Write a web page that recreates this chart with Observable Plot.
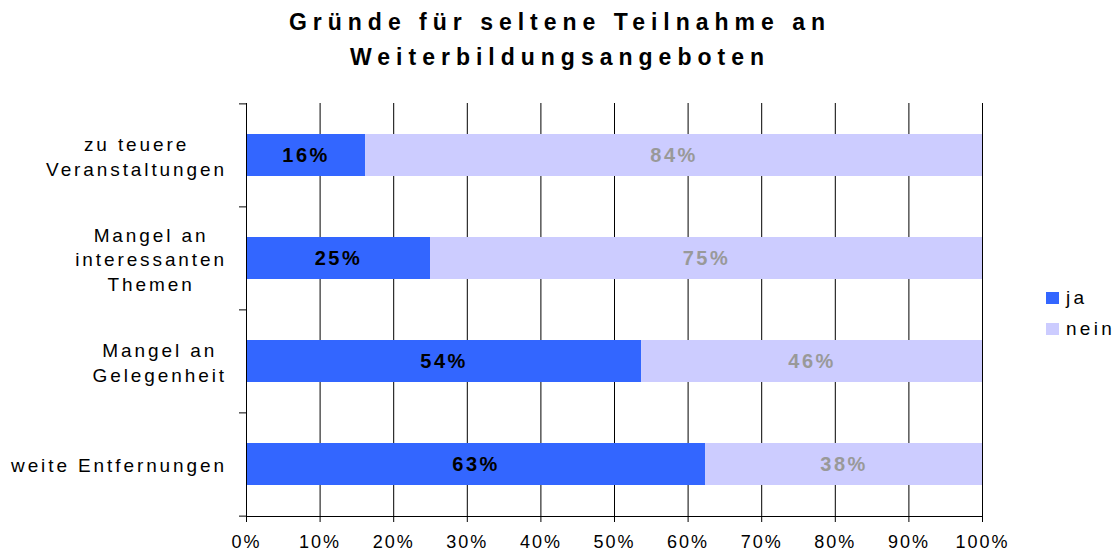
<!DOCTYPE html>
<html><head><meta charset="utf-8">
<script src="https://cdn.jsdelivr.net/npm/d3@7"></script>
<script src="https://cdn.jsdelivr.net/npm/@observablehq/plot@0.6"></script>
<style>
body{margin:0;background:#fff;font-family:"Liberation Sans",Arial,sans-serif;}
#wrap{position:relative;width:1120px;height:553px;overflow:hidden}
#title{position:absolute;top:5px;left:0;width:1120px;text-align:center;font-weight:bold;font-size:23px;letter-spacing:6px;line-height:35px;color:#000}
#chart{position:absolute;left:0;top:0}
#legend{position:absolute;left:1046px;top:282px;font-size:19px;letter-spacing:3.3px;color:#000}
#legend div{display:flex;align-items:center;height:31px}
#legend span.sw{display:inline-block;width:13px;height:12px;margin-right:7px}
svg g.ylab text{letter-spacing:2.9px}
svg g[aria-label="x-axis tick label"] text{letter-spacing:2px}
svg g.val text{letter-spacing:2.5px}
</style></head><body>
<div id="wrap">
<div id="chart"></div>
<div id="title">Gründe für seltene Teilnahme an<br>Weiterbildungsangeboten</div>
<div id="legend"></div>
</div>
<script>
const categories = ["zu teuere\nVeranstaltungen", "Mangel an\ninteressanten\nThemen", "Mangel an\nGelegenheit", "weite Entfernungen"];
const seriesNames = ["ja", "nein"];
const jaValues = [16.2, 25.0, 53.7, 62.4];
const neinValues = [83.8, 75.0, 46.3, 37.6];
const jaLabels = ["16%", "25%", "54%", "63%"];
const neinLabels = ["84%", "75%", "46%", "38%"];
const xTicks = [0, 10, 20, 30, 40, 50, 60, 70, 80, 90, 100];
const seriesColors = ["#3366FF", "#CCCCFF"];
const labelColors = ["#000000", "#999999"];

const rows = [];
categories.forEach((c, i) => {
  rows.push({cat: c, series: "ja", value: jaValues[i], label: jaLabels[i]});
  rows.push({cat: c, series: "nein", value: neinValues[i], label: neinLabels[i]});
});

const W = 1120, H = 553, mL = 246, mR = 138, mT = 103, mB = 37;
const step = (H - mT - mB) / categories.length;
const ylabSize = 19, ylabSpacing = 2.9, gap = 21;
const ctx = document.createElement("canvas").getContext("2d");
ctx.font = `${ylabSize}px 'Liberation Sans', Arial, sans-serif`;
const blockWidth = c => d3.max(c.split("\n"), s => ctx.measureText(s).width + ylabSpacing * s.length);

const ylabMarks = categories.map(c => Plot.text([c], {
  y: d => d, text: d => d, frameAnchor: "left", textAnchor: "middle",
  dx: -(gap + blockWidth(c) / 2) + ylabSpacing / 2,
  lineHeight: 1.3, fontSize: ylabSize, fill: "#000", className: "ylab"
}));

const plot = Plot.plot({
  width: W, height: H,
  marginLeft: mL, marginRight: mR, marginTop: mT, marginBottom: mB,
  style: {fontFamily: "'Liberation Sans', Arial, sans-serif", background: "#fff", color: "#000"},
  x: {domain: [0, 100], ticks: xTicks},
  y: {domain: categories, paddingInner: 0.59, paddingOuter: 0.295},
  color: {domain: seriesNames, range: seriesColors},
  marks: [
    Plot.ruleX(xTicks, {stroke: "#000", strokeWidth: 1}),
    Plot.barX(rows, Plot.stackX({x: "value", y: "cat", fill: "series"})),
    Plot.text(rows, Plot.stackX({x: "value", y: "cat", text: "label", fill: d => labelColors[seriesNames.indexOf(d.series)], fontWeight: "bold", fontSize: 20, className: "val"})),
    Plot.frame({anchor: "bottom", stroke: "#000"}),
    Plot.ruleX([0], {stroke: "#000", strokeWidth: 1}),
    Plot.axisX({ticks: xTicks, tickFormat: d => d + "%", tickSize: 6, tickPadding: 13, fontSize: 18, stroke: "#000", color: "#000", label: null}),
    Plot.axisY({tickSize: 7, tickFormat: () => "", dy: -step / 2, stroke: "#000", label: null}),
    Plot.axisY([categories[categories.length - 1]], {tickSize: 7, tickFormat: () => "", dy: step / 2, stroke: "#000", label: null}),
    ...ylabMarks
  ]
});
document.getElementById("chart").appendChild(plot);

const legend = document.getElementById("legend");
seriesNames.forEach((s, i) => {
  const row = document.createElement("div");
  row.innerHTML = `<span class="sw" style="background:${seriesColors[i]}"></span>${s}`;
  legend.appendChild(row);
});
</script>
</body></html>
